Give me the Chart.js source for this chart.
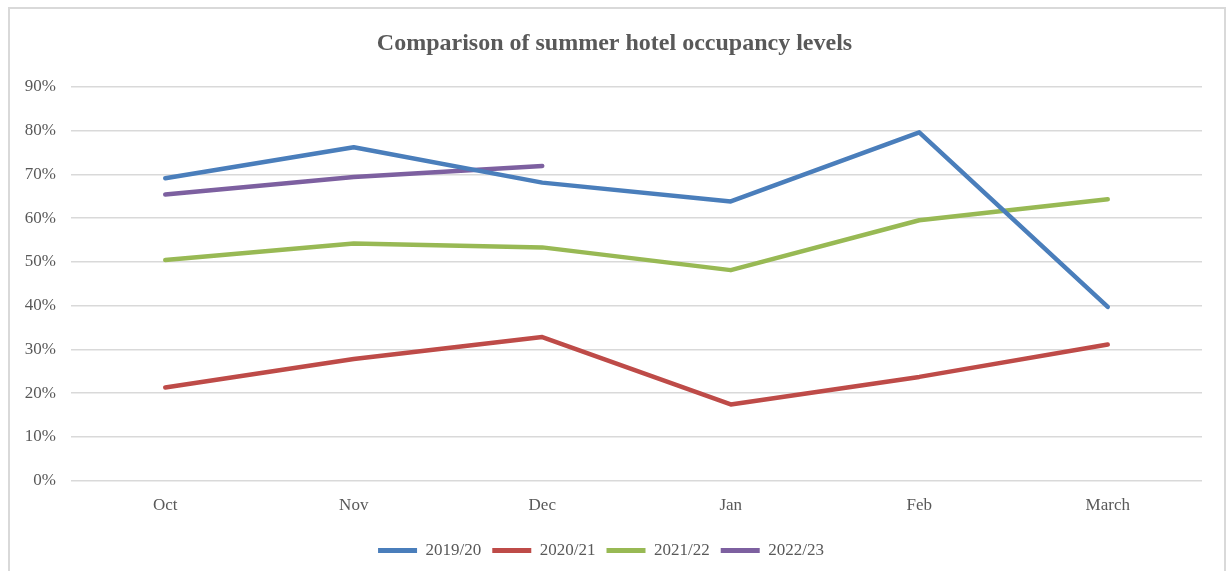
<!DOCTYPE html>
<html>
<head>
<meta charset="utf-8">
<script src="https://cdn.jsdelivr.net/npm/chart.js@4"></script>
<style>
  html, body { margin: 0; padding: 0; background: #fff; }
  #wrap { position: absolute; left: 0; top: 0; width: 1229px; height: 571px; }
  #frame { position: absolute; left: 8px; top: 7px; width: 1218px; height: 600px; box-sizing: border-box; border: 2px solid #d9d9d9; pointer-events: none; }
</style>
</head>
<body>
<div id="wrap"><canvas id="c" width="1229" height="571"></canvas></div>
<div id="frame"></div>
<script>
const titleText = 'Comparison of summer hotel occupancy levels';
const months = ['Oct', 'Nov', 'Dec', 'Jan', 'Feb', 'March'];
const seriesNames = ['2019/20', '2020/21', '2021/22', '2022/23'];
const occ1920 = [0.691, 0.762, 0.681, 0.638, 0.796, 0.397];
const occ2021 = [0.213, 0.278, 0.328, 0.174, 0.237, 0.311];
const occ2122 = [0.504, 0.542, 0.533, 0.481, 0.595, 0.643];
const occ2223 = [0.654, 0.694, 0.719, null, null, null];
const yTicks = [0, 0.1, 0.2, 0.3, 0.4, 0.5, 0.6, 0.7, 0.8, 0.9];
const colors = ['#4a7ebb', '#be4b48', '#98b954', '#7d60a0'];

const values = [occ1920, occ2021, occ2122, occ2223];
const serif = "'Liberation Serif', 'Times New Roman', serif";

// Center the title over the whole canvas (the right layout padding only applies to the plot)
const centerTitle = {
  id: 'centerTitle',
  afterLayout(chart) {
    const t = chart.titleBlock;
    if (t) { t.left = 0; t.right = chart.width; t.width = chart.width; }
  }
};

new Chart(document.getElementById('c'), {
  type: 'line',
  plugins: [centerTitle],
  data: {
    labels: months,
    datasets: seriesNames.map((name, i) => ({
      label: name,
      data: values[i],
      borderColor: colors[i],
      backgroundColor: colors[i],
      borderWidth: 4.5,
      borderCapStyle: 'round',
      borderJoinStyle: 'round',
      pointRadius: 0,
      pointHoverRadius: 0,
      tension: 0,
      spanGaps: false,
      fill: false
    }))
  },
  options: {
    responsive: false,
    animation: false,
    devicePixelRatio: 1,
    layout: { padding: { left: 0, right: 27, top: 0, bottom: 2 } },
    plugins: {
      title: {
        display: true,
        text: titleText,
        color: '#595959',
        font: { family: serif, size: 24, weight: 'bold' },
        padding: { top: 29, bottom: 29 }
      },
      legend: {
        position: 'bottom',
        labels: {
          color: '#595959',
          font: { family: serif, size: 17 },
          boxWidth: 39,
          boxHeight: 5,
          padding: 11,
          generateLabels: (chart) => chart.data.datasets.map((ds, i) => ({
            text: ds.label,
            fillStyle: ds.borderColor,
            strokeStyle: ds.borderColor,
            lineWidth: 0,
            fontColor: '#595959',
            hidden: !chart.isDatasetVisible(i),
            datasetIndex: i
          }))
        }
      },
      tooltip: { enabled: false }
    },
    scales: {
      x: {
        offset: true,
        grid: { display: false, drawTicks: false },
        border: { display: false },
        ticks: { color: '#595959', font: { family: serif, size: 17 }, padding: 15, maxRotation: 0 }
      },
      y: {
        min: 0,
        max: 0.9,
        afterFit: (s) => { s.width = 71; },
        afterBuildTicks: (s) => { s.ticks = yTicks.map(v => ({ value: v })); },
        grid: { color: '#d9d9d9', lineWidth: 1.5, drawTicks: false },
        border: { display: false },
        ticks: {
          color: '#595959',
          font: { family: serif, size: 17 },
          padding: 15,
          callback: (v) => Math.round(v * 100) + '%'
        }
      }
    }
  }
});
</script>
</body>
</html>
